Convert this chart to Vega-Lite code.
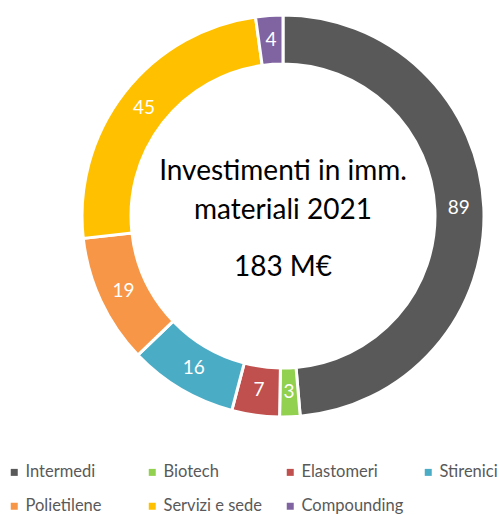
{
  "$schema": "https://vega.github.io/schema/vega-lite/v6.json",
  "width": 402,
  "height": 402,
  "autosize": {"type": "none"},
  "padding": {"left": 82, "top": 15, "right": 16, "bottom": 98},
  "background": "white",
  "config": {"view": {"stroke": null}},
  "data": {"values": [
    {"segmento": "Intermedi", "valore": 89, "ordine": 1},
    {"segmento": "Biotech", "valore": 3, "ordine": 2},
    {"segmento": "Elastomeri", "valore": 7, "ordine": 3},
    {"segmento": "Stirenici", "valore": 16, "ordine": 4},
    {"segmento": "Polietilene", "valore": 19, "ordine": 5},
    {"segmento": "Servizi e sede", "valore": 45, "ordine": 6},
    {"segmento": "Compounding", "valore": 4, "ordine": 7}
  ]},
  "layer": [
    {
      "mark": {"type": "arc", "outerRadius": 201, "innerRadius": 152, "stroke": "white", "strokeWidth": 3},
      "encoding": {
        "theta": {"field": "valore", "type": "quantitative", "stack": true},
        "order": {"field": "ordine", "type": "quantitative"},
        "color": {
          "field": "segmento", "type": "nominal",
          "scale": {
            "domain": ["Intermedi", "Biotech", "Elastomeri", "Stirenici", "Polietilene", "Servizi e sede", "Compounding"],
            "range": ["#595959", "#92D050", "#C0504D", "#4BACC6", "#F79646", "#FFC000", "#8064A2"]
          },
          "legend": {
            "title": null,
            "orient": "none",
            "legendX": -76,
            "legendY": 449,
            "direction": "horizontal",
            "columns": 4,
            "gridAlign": "all",
            "columnPadding": 16,
            "rowPadding": 17,
            "padding": 0,
            "symbolType": "square",
            "symbolSize": 49,
            "symbolStrokeWidth": 0,
            "labelOffset": 3,
            "labelFont": "Lato",
            "labelFontSize": 16.5,
            "labelColor": "#595959",
            "labelLimit": 200
          }
        }
      }
    },
    {
      "mark": {"type": "text", "radius": 176, "fill": "white", "font": "Lato", "fontSize": 19, "align": "center", "baseline": "middle"},
      "encoding": {
        "theta": {"field": "valore", "type": "quantitative", "stack": true},
        "order": {"field": "ordine", "type": "quantitative"},
        "text": {"field": "valore", "type": "quantitative"}
      }
    },
    {
      "data": {"values": [{"t": "Investimenti in imm."}]},
      "mark": {"type": "text", "font": "Lato", "fontSize": 28, "color": "black", "align": "center", "baseline": "middle", "dy": -44},
      "encoding": {"text": {"field": "t", "type": "nominal"}}
    },
    {
      "data": {"values": [{"t": "materiali 2021"}]},
      "mark": {"type": "text", "font": "Lato", "fontSize": 28, "color": "black", "align": "center", "baseline": "middle", "dy": -5},
      "encoding": {"text": {"field": "t", "type": "nominal"}}
    },
    {
      "data": {"values": [{"t": "183 M€"}]},
      "mark": {"type": "text", "font": "Lato", "fontSize": 28, "color": "black", "align": "center", "baseline": "middle", "dy": 52},
      "encoding": {"text": {"field": "t", "type": "nominal"}}
    }
  ]
}
